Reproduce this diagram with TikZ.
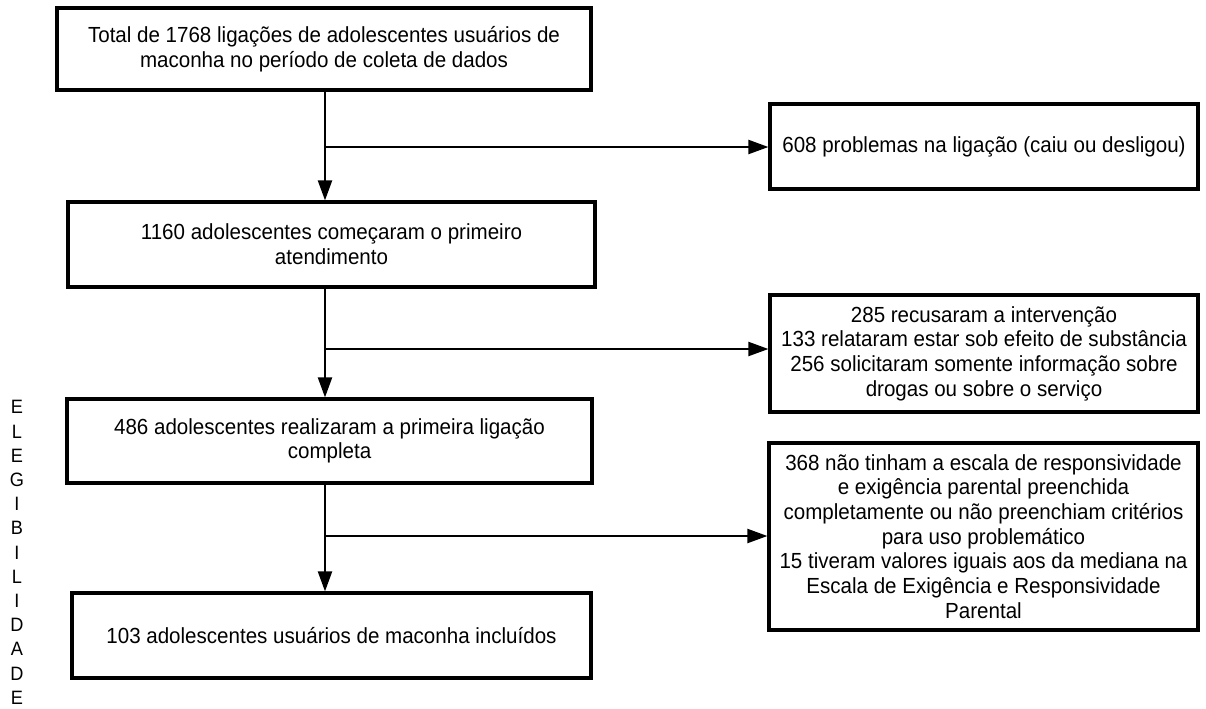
\documentclass[tikz,border=0pt]{standalone}
\usepackage{fontspec}
\setmainfont{Liberation Sans}[FakeStretch=0.94]
\usepackage{tikz}
\usetikzlibrary{arrows.meta,calc}

\tikzset{
caixa/.style={draw,line width=2.4pt,align=center,inner sep=0pt,
  font=\fontsize{16.4}{18.5}\selectfont},
seta/.style={line width=1.6pt,-{Triangle[length=15pt,width=10.5pt]}},
}

\begin{document}
\begin{tikzpicture}[x=0.75pt,y=-0.75pt]
\useasboundingbox (0,0) rectangle (1206,708);

\node (b1) at (324,49) [caixa,minimum width=400.5pt,minimum height=61.5pt] {Total de 1768 ligações de adolescentes usuários de\\maconha no período de coleta de dados};
\node (b2) at (331.5,244.5) [caixa,minimum width=395.25pt,minimum height=63.75pt] {1160 adolescentes começaram o primeiro\\atendimento};
\node (b3) at (329.5,441) [caixa,minimum width=393.75pt,minimum height=63pt] {486 adolescentes realizaram a primeira ligação\\completa};
\node (b4) at (331.5,635.5) [caixa,minimum width=389.25pt,minimum height=63.75pt] {103 adolescentes usuários de maconha incluídos};

\node (r1) at (984,146.5) [caixa,minimum width=321pt,minimum height=63.75pt] {608 problemas na ligação (caiu ou desligou)};
\node (r2) at (984,353.5) [caixa,minimum width=321pt,minimum height=87.75pt] {285 recusaram a intervenção\\133 relataram estar sob efeito de substância\\256 solicitaram somente informação sobre\\drogas ou sobre o serviço};
\node (r3) at (983.5,536.5) [caixa,minimum width=321.75pt,minimum height=140.25pt] {368 não tinham a escala de responsividade\\e exigência parental preenchida\\completamente ou não preenchiam critérios\\para uso problemático\\15 tiveram valores iguais aos da mediana na\\Escala de Exigência e Responsividade\\Parental};

\node (eleg) at (17,552.5) [align=center,inner sep=0pt,font=\fontsize{14.5}{18.15}\selectfont] {E\\L\\E\\G\\I\\B\\I\\L\\I\\D\\A\\D\\E};

\coordinate (j1) at (325,147);
\coordinate (j2) at (325,349);
\coordinate (j3) at (325,536);

\draw[seta] (b1.south -| j1) -- (b2.north -| j1);
\draw[seta] (j1) -- (j1 -| r1.west);
\draw[seta] (b2.south -| j2) -- (b3.north -| j2);
\draw[seta] (j2) -- (j2 -| r2.west);
\draw[seta] (b3.south -| j3) -- (b4.north -| j3);
\draw[seta] (j3) -- (j3 -| r3.west);

\end{tikzpicture}
\end{document}
